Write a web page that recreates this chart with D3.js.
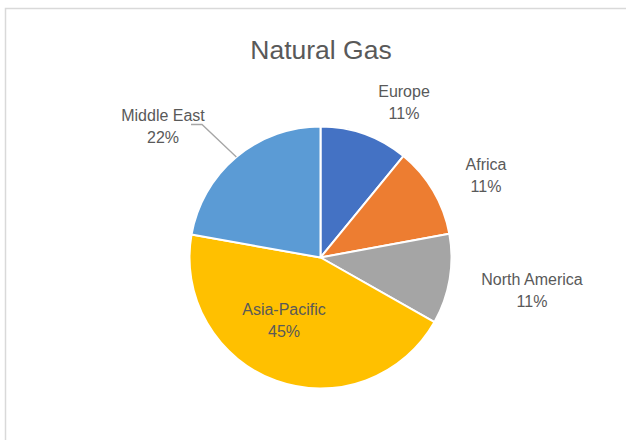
<!DOCTYPE html>
<html>
<head>
<meta charset="utf-8">
<script src="https://cdn.jsdelivr.net/npm/d3@7"></script>
<style>
  html, body { margin: 0; padding: 0; background: #ffffff; }
  svg { display: block; }
  text { font-family: "Liberation Sans", Arial, sans-serif; fill: #595959; }
</style>
</head>
<body>
<svg id="chart" width="626" height="440"></svg>
<script>
// ---- data ----
const title = "Natural Gas";
const categories = ["Europe", "Africa", "North America", "Asia-Pacific", "Middle East"];
const values = [10.9, 11.2, 11.1, 44.6, 22.2];
const colors = ["#4472C4", "#ED7D31", "#A5A5A5", "#FFC000", "#5B9BD5"];

// ---- layout ----
const W = 626, H = 440;
const cx = 320.5, cy = 257.5, R = 131;
const labelAnchor = {
  "Europe": [404, 97],
  "Africa": [486, 170],
  "North America": [532, 285],
  "Asia-Pacific": [284, 315],
  "Middle East": [163, 121]
};
const lineGap = 21.5;

const svg = d3.select("#chart");

// chart area border
svg.append("rect")
  .attr("x", 5.5).attr("y", 8.5)
  .attr("width", W + 20).attr("height", H + 20)
  .attr("fill", "#ffffff")
  .attr("stroke", "#D9D9D9")
  .attr("stroke-width", 1.5);

// title
svg.append("text")
  .attr("x", 321).attr("y", 59)
  .attr("text-anchor", "middle")
  .style("font-size", "26.5px")
  .text(title);

const data = categories.map((c, i) => ({ cat: c, value: values[i], color: colors[i] }));
const total = d3.sum(values);
const pct = d3.format(".0%");

const pie = d3.pie().sort(null).value(d => d.value);
const arcs = pie(data);
const arc = d3.arc().innerRadius(0).outerRadius(R);

const g = svg.append("g").attr("transform", `translate(${cx},${cy})`);
g.selectAll("path.slice")
  .data(arcs)
  .join("path")
  .attr("class", "slice")
  .attr("d", arc)
  .attr("fill", d => d.data.color)
  .attr("stroke", "#ffffff")
  .attr("stroke-width", 2)
  .attr("stroke-linejoin", "round");

// leader line for Middle East
const me = arcs.find(a => a.data.cat === "Middle East");
const midA = (me.startAngle + me.endAngle) / 2;
const ex = cx + Math.sin(midA) * R, ey = cy - Math.cos(midA) * R;
const [mlx, mly] = labelAnchor["Middle East"];
svg.append("path")
  .attr("d", d3.line()([[mlx + 28, mly + 3.5], [mlx + 39, mly + 3.5], [ex, ey]]))
  .attr("fill", "none")
  .attr("stroke", "#A6A6A6")
  .attr("stroke-width", 1.3);

// labels
const lab = svg.append("g");
arcs.forEach(a => {
  const [lx, ly] = labelAnchor[a.data.cat];
  const t = lab.append("text")
    .attr("x", lx).attr("y", ly)
    .attr("text-anchor", "middle")
    .style("font-size", "16px");
  t.append("tspan").attr("x", lx).attr("y", ly).text(a.data.cat);
  t.append("tspan").attr("x", lx).attr("y", ly + lineGap).text(pct(a.data.value / total));
});
</script>
</body>
</html>
